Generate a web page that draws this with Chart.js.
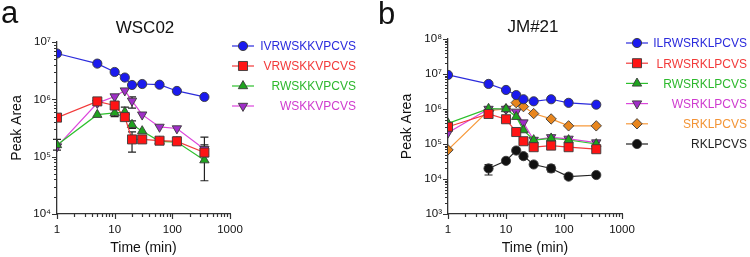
<!DOCTYPE html>
<html>
<head>
<meta charset="utf-8">
<script src="https://cdn.jsdelivr.net/npm/chart.js@4.4.0/dist/chart.umd.min.js"></script>
<style>
  body { margin: 0; background: #fff; width: 750px; height: 257px; overflow: hidden; display: flex; }
  .panel { position: relative; width: 375px; height: 257px; }
</style>
</head>
<body>
<div class="panel"><canvas id="chartA" width="375" height="257"></canvas></div>
<div class="panel"><canvas id="chartB" width="375" height="257"></canvas></div>
<script>
const FONT = "'Liberation Sans', Arial, sans-serif";

// shared x values (time, min)
const times = [1, 5, 10, 15, 20, 30, 60, 120, 360];
const xTickLabels = ['1', '10', '100', '1000'];

// panel a - WSC02
const wscLabels = ['IVRWSKKVPCVS', 'VRWSKKVPCVS', 'RWSKKVPCVS', 'WSKKVPCVS'];
const wscIVR = [6.3e6, 4.2e6, 3.0e6, 2.4e6, 1.78e6, 1.85e6, 1.8e6, 1.4e6, 1.1e6];
const wscVR  = [4.8e5, 9.2e5, 7.8e5, 4.9e5, 2.0e5, 2.0e5, 1.9e5, 1.85e5, 1.18e5];
const wscRW  = [1.6e5, 5.4e5, 5.8e5, 6.0e5, 3.6e5, 2.8e5, 1.85e5, 1.8e5, 8.7e4];
const wscWS  = [1.5e5, 8.6e5, 1.12e6, 1.42e6, 9.4e5, 5.4e5, 3.3e5, 3.1e5, 1.35e5];
// error bars [low, high]
const wscVRErr = [null, null, null, [4.3e5, 7.3e5], [1.2e5, 2.7e5], null, null, null, [1.0e5, 1.35e5]];
const wscRWErr = [[1.3e5, 2.0e5], null, [5.0e5, 6.8e5], null, [3.1e5, 4.2e5], null, null, [1.6e5, 2.2e5], [3.8e4, 2.2e5]];
const wscWSErr = [null, null, null, null, [7.0e5, 1.1e6], null, null, null, [1.1e5, 1.6e5]];
const wscYTicks = ['10⁴', '10⁵', '10⁶', '10⁷'];

// panel b - JM#21
const jmLabels = ['ILRWSRKLPCVS', 'LRWSRKLPCVS', 'RWSRKLPCVS', 'WSRKLPCVS', 'SRKLPCVS', 'RKLPCVS'];
const jmILR = [9.4e6, 5.2e6, 3.5e6, 2.5e6, 1.9e6, 1.66e6, 1.9e6, 1.5e6, 1.33e6];
const jmLR  = [3.1e5, 7.2e5, 5.1e5, 2.2e5, 1.2e5, 8.1e4, 9.0e4, 8.1e4, 7.1e4];
const jmRW  = [3.9e5, 1.02e6, 1.0e6, 6.0e5, 2.5e5, 1.3e5, 1.45e5, 1.3e5, 1.0e5];
const jmWS  = [2.1e5, 1.0e6, 1.0e6, 8.3e5, 4.1e5, 1.3e5, 1.55e5, 1.4e5, 1.1e5];
const jmSR  = [6.8e4, 9.0e5, 1.0e6, 1.52e6, 1.17e6, 7.4e5, 5.2e5, 3.3e5, 3.3e5];
const jmRK  = [null, 2.0e4, 3.3e4, 6.5e4, 4.5e4, 2.6e4, 2.0e4, 1.17e4, 1.3e4];
const jmRKErr = [null, [1.3e4, 2.6e4], [2.8e4, 3.8e4], null, [3.8e4, 5.3e4], null, [1.6e4, 2.5e4], [1.0e4, 1.35e4], null];
const jmYTicks = ['10³', '10⁴', '10⁵', '10⁶', '10⁷', '10⁸'];

// marker styles
const STYLES = {
  blue:    { line: '#2b2bdc', fill: '#1a1aee', text: '#2b2bdc', point: 'circle', r: 4.6, rot: 0 },
  red:     { line: '#f23a3a', fill: '#ff1414', text: '#f23a3a', point: 'rect', r: 6.4, rot: 0 },
  green:   { line: '#2cc02c', fill: '#1fa31f', text: '#2cba2c', point: 'triangle', r: 5.4, rot: 0 },
  magenta: { line: '#dc46dc', fill: '#a02ec8', text: '#d03ad0', point: 'triangle', r: 5.4, rot: 180 },
  orange:  { line: '#f79a3c', fill: '#e8861e', text: '#f39436', point: 'rectRot', r: 5.2, rot: 0 },
  black:   { line: '#222222', fill: '#111111', text: '#222222', point: 'circle', r: 4.6, rot: 0 }
};

function makeDataset(label, values, style, errors) {
  const s = STYLES[style];
  return {
    label: label,
    data: times.map((t, i) => ({ x: t, y: values[i] })),
    errors: errors || null,
    legendColor: s.text,
    borderColor: s.line,
    borderWidth: 1.2,
    backgroundColor: s.fill,
    pointStyle: s.point,
    pointRotation: s.rot,
    pointRadius: s.r,
    pointHoverRadius: s.r,
    pointBackgroundColor: s.fill,
    pointBorderColor: '#3a3a3a',
    pointBorderWidth: 0.9,
    spanGaps: false,
    tension: 0
  };
}

function logTicks(min, max) {
  const out = [];
  for (let e = Math.round(Math.log10(min)); e < Math.round(Math.log10(max)); e++) {
    for (let m = 1; m < 10; m++) out.push(m * Math.pow(10, e));
  }
  out.push(max);
  return out;
}

function isPow10(v) {
  const e = Math.log10(v);
  return Math.abs(e - Math.round(e)) < 1e-9;
}

// error bars, drawn before the points so markers sit on top
const errorBars = {
  id: 'errorBars',
  beforeDatasetsDraw(chart) {
    const ctx = chart.ctx;
    const xs = chart.scales.x, ys = chart.scales.y;
    ctx.save();
    ctx.strokeStyle = '#222';
    ctx.lineWidth = 1.2;
    chart.data.datasets.forEach(ds => {
      if (!ds.errors) return;
      ds.errors.forEach((err, i) => {
        if (!err) return;
        const x = xs.getPixelForValue(times[i]);
        const y1 = ys.getPixelForValue(err[0]);
        const y2 = ys.getPixelForValue(err[1]);
        ctx.beginPath();
        ctx.moveTo(x, y1); ctx.lineTo(x, y2);
        ctx.moveTo(x - 4, y1); ctx.lineTo(x + 4, y1);
        ctx.moveTo(x - 4, y2); ctx.lineTo(x + 4, y2);
        ctx.stroke();
      });
    });
    ctx.restore();
  }
};

// tick marks (major long, minor short), letter, title, legend
const decor = {
  id: 'decor',
  afterDraw(chart, args, opts) {
    const ctx = chart.ctx;
    const xs = chart.scales.x, ys = chart.scales.y;
    const area = chart.chartArea;
    ctx.save();
    ctx.strokeStyle = '#333';
    ctx.lineWidth = 1.2;
    ctx.beginPath();
    xs.ticks.forEach(t => {
      const px = Math.round(xs.getPixelForValue(t.value)) + 0.5;
      const len = isPow10(t.value) ? 5 : 3;
      ctx.moveTo(px, area.bottom); ctx.lineTo(px, area.bottom + len);
    });
    ys.ticks.forEach(t => {
      const py = Math.round(ys.getPixelForValue(t.value)) + 0.5;
      const len = isPow10(t.value) ? 5 : 3;
      ctx.moveTo(area.left, py); ctx.lineTo(area.left - len, py);
    });
    ctx.stroke();

    ctx.fillStyle = '#111';
    ctx.font = '31px ' + FONT;
    ctx.textAlign = 'left';
    ctx.textBaseline = 'alphabetic';
    ctx.fillText(opts.letter, opts.letterX, opts.letterY);

    ctx.font = '17px ' + FONT;
    ctx.textAlign = 'center';
    ctx.textBaseline = 'middle';
    ctx.fillText(opts.title, (area.left + area.right) / 2 + opts.titleDx, opts.titleY);

    // legend
    chart.data.datasets.forEach((ds, i) => {
      const y = opts.legendY + i * opts.legendStep;
      ctx.strokeStyle = ds.borderColor;
      ctx.lineWidth = 1.2;
      ctx.beginPath();
      ctx.moveTo(opts.legendX, y); ctx.lineTo(opts.legendX + 22, y);
      ctx.stroke();
      ctx.fillStyle = ds.pointBackgroundColor;
      ctx.strokeStyle = ds.pointBorderColor;
      ctx.lineWidth = ds.pointBorderWidth;
      Chart.helpers.drawPoint(ctx, {
        pointStyle: ds.pointStyle, radius: ds.pointRadius,
        rotation: ds.pointRotation, borderWidth: ds.pointBorderWidth
      }, opts.legendX + 11, y);
      ctx.fillStyle = ds.legendColor;
      ctx.font = '12px ' + FONT;
      ctx.textAlign = 'right';
      ctx.textBaseline = 'middle';
      ctx.fillText(ds.label, opts.legendTextRight, y + 1);
    });
    ctx.restore();
  }
};

function makeChart(id, datasets, cfg) {
  return new Chart(document.getElementById(id), {
    type: 'line',
    data: { datasets: datasets },
    plugins: [errorBars, decor],
    options: {
      responsive: false,
      animation: false,
      devicePixelRatio: 1,
      layout: { padding: { left: 0, top: cfg.top, right: cfg.right, bottom: 0 } },
      plugins: {
        legend: { display: false },
        tooltip: { enabled: false },
        title: { display: false },
        decor: cfg.decor
      },
      scales: {
        x: {
          type: 'logarithmic',
          min: 1, max: 1000,
          afterBuildTicks: s => { s.ticks = logTicks(1, 1000).map(v => ({ value: v })); },
          afterFit: s => { s.height = 257 - cfg.bottom; },
          grid: { display: false, drawTicks: false },
          border: { display: true, color: '#333', width: 1.3 },
          ticks: {
            autoSkip: false, maxRotation: 0, padding: 9, color: '#111',
            font: { family: FONT, size: 11.5 },
            callback: v => isPow10(v) ? xTickLabels[Math.round(Math.log10(v))] : ''
          },
          title: { display: true, text: 'Time (min)', color: '#111', font: { family: FONT, size: 14 }, padding: { top: 0, bottom: 0 } }
        },
        y: {
          type: 'logarithmic',
          min: cfg.yMin, max: cfg.yMax,
          afterBuildTicks: s => { s.ticks = logTicks(cfg.yMin, cfg.yMax).map(v => ({ value: v })); },
          afterFit: s => { s.width = cfg.left; },
          grid: { display: false, drawTicks: false },
          border: { display: true, color: '#333', width: 1.3 },
          ticks: {
            autoSkip: false, padding: 6, color: '#111',
            font: { family: FONT, size: 11.5 },
            callback: v => isPow10(v) ? cfg.yLabels[Math.round(Math.log10(v) - Math.log10(cfg.yMin))] : ''
          },
          title: { display: true, text: 'Peak Area', color: '#111', font: { family: FONT, size: 14 }, padding: { top: cfg.yTitlePad, bottom: 0 } }
        }
      }
    }
  });
}

makeChart('chartA', [
  makeDataset(wscLabels[0], wscIVR, 'blue'),
  makeDataset(wscLabels[1], wscVR, 'red', wscVRErr),
  makeDataset(wscLabels[2], wscRW, 'green', wscRWErr),
  makeDataset(wscLabels[3], wscWS, 'magenta', wscWSErr)
], {
  top: 42, right: 145, left: 57, bottom: 214, yMin: 1e4, yMax: 1e7, yLabels: wscYTicks, yTitlePad: 9,
  decor: { letter: 'a', letterX: 1, letterY: 23, title: 'WSC02', titleDx: 1.5, titleY: 28,
           legendX: 232, legendY: 46, legendStep: 20, legendTextRight: 356 }
});

makeChart('chartB', [
  makeDataset(jmLabels[0], jmILR, 'blue'),
  makeDataset(jmLabels[1], jmLR, 'red'),
  makeDataset(jmLabels[2], jmRW, 'green'),
  makeDataset(jmLabels[3], jmWS, 'magenta'),
  makeDataset(jmLabels[4], jmSR, 'orange'),
  makeDataset(jmLabels[5], jmRK, 'black', jmRKErr)
], {
  top: 39, right: 128, left: 73, bottom: 214, yMin: 1e3, yMax: 1e8, yLabels: jmYTicks, yTitlePad: 24,
  decor: { letter: 'b', letterX: 3, letterY: 24, title: 'JM#21', titleDx: -2, titleY: 27,
           legendX: 251, legendY: 43, legendStep: 20.2, legendTextRight: 372 }
});
</script>
</body>
</html>
